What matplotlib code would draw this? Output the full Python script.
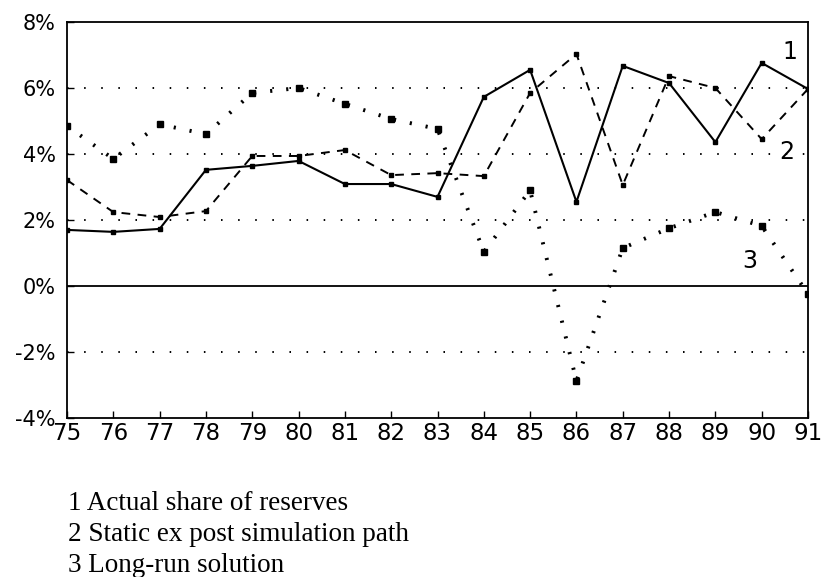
import matplotlib
matplotlib.use("Agg")
import matplotlib.pyplot as plt
import numpy as np

# Data (percent)
years = [75, 76, 77, 78, 79, 80, 81, 82, 83, 84, 85, 86, 87, 88, 89, 90, 91]
actual = [1.70, 1.64, 1.73, 3.52, 3.64, 3.79, 3.09, 3.09, 2.70, 5.73,
          6.55, 2.55, 6.67, 6.15, 4.36, 6.76, 5.97]
static_sim = [3.21, 2.24, 2.09, 2.27, 3.94, 3.94, 4.12, 3.36, 3.42, 3.33,
              5.85, 7.03, 3.06, 6.36, 6.00, 4.45, 5.97]
long_run = [4.85, 3.85, 4.90, 4.60, 5.85, 6.00, 5.52, 5.06, 4.76, 1.03,
            2.90, -2.88, 1.15, 1.75, 2.24, 1.82, -0.24]
yticks = [-4, -2, 0, 2, 4, 6, 8]
legend_lines = ["1 Actual share of reserves",
                "2 Static ex post simulation path",
                "3 Long-run solution"]

fig = plt.figure(figsize=(8.24, 5.77), dpi=100)
ax = fig.add_axes([67 / 824, 1 - 418 / 577, (808 - 67) / 824, (418 - 22) / 577])

# grid lines
for v in [-2, 2, 4, 6]:
    ax.axhline(v, color="black", lw=1.4, linestyle=(0, (0.8, 8)), zorder=1)
ax.axhline(0, color="black", lw=1.3, zorder=1)

ax.plot(years, actual, color="black", lw=1.5, marker="s", ms=2.5, zorder=3)
ax.plot(years, static_sim, color="black", lw=1.4, linestyle=(0, (4.5, 3.8)),
        marker="s", ms=3.5, zorder=3)
ax.plot(years, long_run, color="black", lw=2.8, linestyle=(0, (0.55, 3.6)),
        marker="s", ms=4, zorder=3)

ax.set_xlim(75, 91)
ax.set_ylim(-4, 8)
ax.set_xticks(years)
ax.set_xticklabels([str(y) for y in years], fontsize=16.5)
ax.set_yticks(yticks)
ax.set_yticklabels([f"{v}%" for v in yticks], fontsize=15)
ax.tick_params(axis="both", direction="in", length=5, width=1, pad=3)
ax.tick_params(axis="y", pad=8)
for s in ax.spines.values():
    s.set_linewidth(1.3)

ax.text(90.6, 7.1, "1", fontsize=17, ha="center", va="center")
ax.text(90.55, 4.05, "2", fontsize=17, ha="center", va="center")
ax.text(89.75, 0.75, "3", fontsize=17, ha="center", va="center")

for i, line in enumerate(legend_lines):
    fig.text(68 / 824, 1 - (503 + 31.5 * i) / 577, line, fontsize=19.5,
             family="Liberation Serif", ha="left", va="center")

fig.savefig("out.png", dpi=100)
